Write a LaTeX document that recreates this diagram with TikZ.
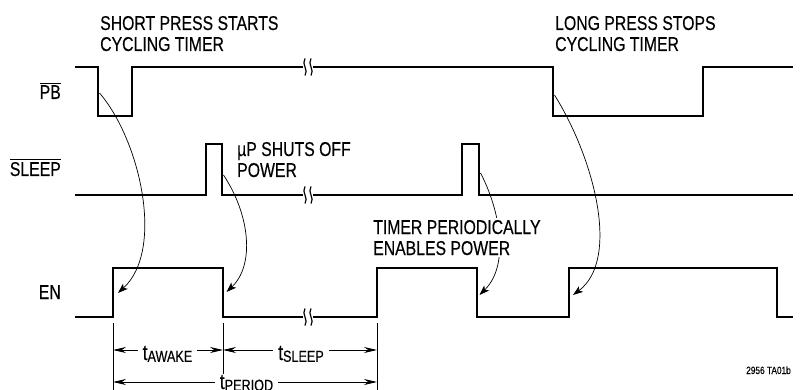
\documentclass[tikz,border=0pt]{standalone}
\usepackage{fontspec}
\setmainfont{Liberation Sans}[FakeStretch=0.79,FakeBold=0.3]
\usetikzlibrary{arrows.meta}
\newcommand\ovl[1]{\vbox{\hrule height 0.9pt\kern 1.8pt\hbox{#1}}}
\newcommand\tsub[1]{{\fontsize{22}{22}\selectfont t}{\fontsize{16}{16}\selectfont\raisebox{-1.8pt}{#1}}}
\begin{document}
\begin{tikzpicture}[x=1pt,y=-1pt,
  wave/.style={line width=2.9pt,line join=miter},
  brkline/.style={line width=1.2pt},
  curvearr/.style={line width=0.7pt,-{Stealth[length=10pt,width=7pt,inset=2.5pt]}},
  dimline/.style={line width=0.8pt},
  dimarr/.style={line width=0.8pt,{Stealth[length=13pt,width=6pt]}-{Stealth[length=13pt,width=6pt]}},
  txt/.style={inner sep=0pt,font=\fontsize{20}{21}\selectfont,align=left,text=black},
  sig/.style={inner sep=0pt,font=\fontsize{20}{21}\selectfont,text=black},
  dimtxt/.style={fill=white,inner xsep=5pt,inner ysep=1pt},
  brk/.pic={
    \draw[brkline] (-3,-8.5) .. controls (-7,-3) and (1,3) .. (-3,8.5);
    \draw[brkline] (3,-8.5) .. controls (-1,-3) and (7,3) .. (3,8.5);
  }
]
\useasboundingbox (0,0) rectangle (800,390);
\clip (0,0) rectangle (800,390);

% PB waveform
\draw[wave] (75,67) -- (98,67) -- (98,116) -- (132,116) -- (132,67) -- (303,67);
\draw[wave] (313,67) -- (553,67) -- (553,116) -- (703,116) -- (703,67) -- (793,67);
\pic at (308,67) {brk};

% SLEEP waveform
\draw[wave] (75,195) -- (206,195) -- (206,144) -- (222,144) -- (222,195) -- (303,195);
\draw[wave] (313,195) -- (462,195) -- (462,144) -- (479,144) -- (479,195) -- (793,195);
\pic at (308,195) {brk};

% EN waveform
\draw[wave] (75,317) -- (113,317) -- (113,268) -- (223,268) -- (223,317) -- (303,317);
\draw[wave] (313,317) -- (377,317) -- (377,268) -- (477,268) -- (477,317) -- (569,317) -- (569,268) -- (777,268) -- (777,317) -- (793,317);
\pic at (308,317) {brk};

% signal labels
\node[sig,anchor=base east] (pb) at (61,99) {\ovl{PB}};
\node[sig,anchor=base east] (sleep) at (61,176) {\ovl{SLEEP}};
\node[sig,anchor=base east] (en) at (61,299) {EN};

% curve end points
\coordinate (c1s) at (99.5,93);
\coordinate (c1e) at (118,293);
\coordinate (c2s) at (223.5,175);
\coordinate (c2e) at (226.5,292);
\coordinate (c3s) at (480.5,173);
\coordinate (c3e) at (479.5,295);
\coordinate (c4s) at (554.5,95);
\coordinate (c4e) at (573,295);

\draw[curvearr] (c1s) .. controls (140,140) and (165,250) .. (c1e);
\draw[curvearr] (c2s) .. controls (250,215) and (255,265) .. (c2e);
\draw[curvearr] (c3s) .. controls (500,210) and (510,265) .. (c3e);
\draw[curvearr] (c4s) .. controls (595,160) and (620,260) .. (c4e);

% annotations (base anchor = baseline of last line)
\node[txt,anchor=base west] (shortlbl) at (100,51) {SHORT PRESS STARTS\\CYCLING TIMER};
\node[txt,anchor=base west] (longlbl) at (555,51) {LONG PRESS STOPS\\CYCLING TIMER};
\node[txt,anchor=base west] (uplbl) at (237,177) {µP SHUTS OFF\\POWER};
\node[txt,anchor=base west,fill=white,inner sep=2pt] (timerlbl) at (371,255) {TIMER PERIODICALLY\\ENABLES POWER};

% dimension ticks
\coordinate (k1t) at (113,323); \coordinate (k1b) at (113,395);
\coordinate (k2t) at (223,323); \coordinate (k2b) at (223,395);
\coordinate (k3t) at (377,323); \coordinate (k3b) at (377,395);
\draw[dimline] (k1t) -- (k1b);
\draw[dimline] (k2t) -- (k2b);
\draw[dimline] (k3t) -- (k3b);

\coordinate (a1) at (113,350);
\coordinate (a2) at (223,350);
\coordinate (a3) at (377,350);
\coordinate (p1) at (113,382);
\coordinate (p3) at (377,382);
\draw[dimarr] (a1) -- (a2);
\draw[dimarr] (a2) -- (a3);
\draw[dimarr] (p1) -- (p3);

\node[dimtxt,anchor=base] (tawake) at (167.5,360) {\tsub{AWAKE}};
\node[dimtxt,anchor=base] (tsleep) at (301,360) {\tsub{SLEEP}};
\node[dimtxt,anchor=base] (tperiod) at (246.5,389) {\tsub{PERIOD}};

\node[anchor=base east,inner sep=0pt,font=\fontsize{10.5}{12}\selectfont] (fig) at (791,374) {2956 TA01b};
\end{tikzpicture}
\end{document}
